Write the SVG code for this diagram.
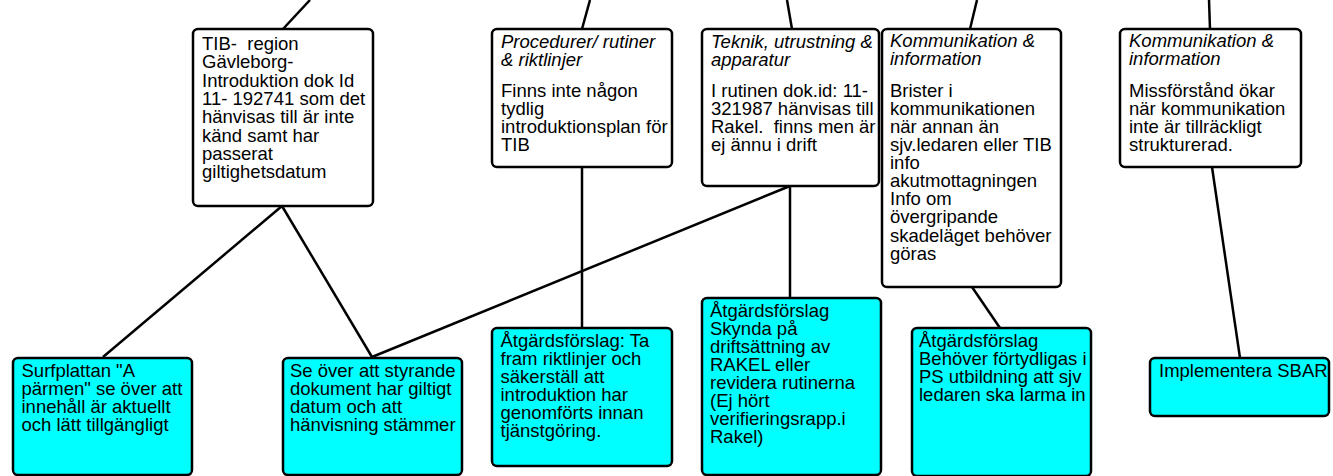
<svg xmlns="http://www.w3.org/2000/svg" width="1333" height="476" viewBox="0 0 1333 476">
<style>
.box{fill:#fff;stroke:#000;stroke-width:2.5}
.act{fill:#00ffff;stroke:#000;stroke-width:2.5}
.c line{stroke:#000;stroke-width:2.5}
text{font-family:"Liberation Sans",Arial,sans-serif;font-size:18.5px;fill:#000;white-space:pre}
.h{font-style:italic}
</style>
<rect width="1333" height="476" fill="#fff"/>
<g class="c" id="connectors">
<line x1="310" y1="0" x2="283" y2="29"/>
<line x1="282" y1="206" x2="103" y2="357"/>
<line x1="282" y1="206" x2="372" y2="357"/>
<line x1="372" y1="357" x2="790" y2="186"/>
<line x1="590" y1="0" x2="582" y2="29"/>
<line x1="582" y1="167" x2="582" y2="328"/>
<line x1="787" y1="0" x2="792" y2="29"/>
<line x1="790" y1="186" x2="790" y2="298"/>
<line x1="977" y1="0" x2="970" y2="29"/>
<line x1="972" y1="287" x2="1000" y2="328"/>
<line x1="1209" y1="0" x2="1210" y2="29"/>
<line x1="1212" y1="167" x2="1240" y2="358"/>
</g>
<g id="n-tib">
<rect class="box" x="193" y="29" width="180" height="177" rx="5"/>
<text xml:space="preserve"><tspan x="202" y="50">TIB-  region</tspan><tspan x="202" dy="18.3">Gävleborg-</tspan><tspan x="202" dy="18.3">Introduktion dok Id</tspan><tspan x="202" dy="18.3">11- 192741 som det</tspan><tspan x="202" dy="18.3">hänvisas till är inte</tspan><tspan x="202" dy="18.3">känd samt har</tspan><tspan x="202" dy="18.3">passerat</tspan><tspan x="202" dy="18.3">giltighetsdatum</tspan></text>
</g>
<g id="n-proc">
<rect class="box" x="492" y="29" width="180" height="138" rx="5"/>
<text class="h"><tspan x="501" y="48">Procedurer/ rutiner</tspan><tspan x="501" dy="18">&amp; riktlinjer</tspan></text>
<text><tspan x="501" y="96.5">Finns inte någon</tspan><tspan x="501" dy="18">tydlig</tspan><tspan x="501" dy="18">introduktionsplan för</tspan><tspan x="501" dy="18">TIB</tspan></text>
</g>
<g id="n-tek">
<rect class="box" x="702" y="29" width="177" height="157" rx="5"/>
<text class="h"><tspan x="711" y="48">Teknik, utrustning &amp;</tspan><tspan x="711" dy="18">apparatur</tspan></text>
<text xml:space="preserve"><tspan x="711" y="96.5">I rutinen dok.id: 11-</tspan><tspan x="711" dy="18">321987 hänvisas till</tspan><tspan x="711" dy="18">Rakel.  finns men är</tspan><tspan x="711" dy="18">ej ännu i drift</tspan></text>
</g>
<g id="n-kom1">
<rect class="box" x="882" y="29" width="179" height="258" rx="5"/>
<text class="h"><tspan x="890" y="47">Kommunikation &amp;</tspan><tspan x="890" dy="18">information</tspan></text>
<text><tspan x="890" y="96.7">Brister i</tspan><tspan x="890" dy="18.1">kommunikationen</tspan><tspan x="890" dy="18.1">när annan än</tspan><tspan x="890" dy="18.1">sjv.ledaren eller TIB</tspan><tspan x="890" dy="18.1">info</tspan><tspan x="890" dy="18.1">akutmottagningen</tspan><tspan x="890" dy="18.1">Info om</tspan><tspan x="890" dy="18.1">övergripande</tspan><tspan x="890" dy="18.1">skadeläget behöver</tspan><tspan x="890" dy="18.1">göras</tspan></text>
</g>
<g id="n-kom2">
<rect class="box" x="1120" y="29" width="181" height="138" rx="5"/>
<text class="h"><tspan x="1129" y="47">Kommunikation &amp;</tspan><tspan x="1129" dy="18">information</tspan></text>
<text><tspan x="1129" y="96.7">Missförstånd ökar</tspan><tspan x="1129" dy="18.1">när kommunikation</tspan><tspan x="1129" dy="18.1">inte är tillräckligt</tspan><tspan x="1129" dy="18.1">strukturerad.</tspan></text>
</g>
<g id="n-surf">
<rect class="act" x="13" y="358" width="179" height="117" rx="5"/>
<text><tspan x="21.5" y="377">Surfplattan "A</tspan><tspan x="21.5" dy="18">pärmen" se över att</tspan><tspan x="21.5" dy="18">innehåll är aktuellt</tspan><tspan x="21.5" dy="18">och lätt tillgängligt</tspan></text>
</g>
<g id="n-seover">
<rect class="act" x="283" y="358" width="179" height="117" rx="5"/>
<text><tspan x="290" y="377">Se över att styrande</tspan><tspan x="290" dy="18">dokument har giltigt</tspan><tspan x="290" dy="18">datum och att</tspan><tspan x="290" dy="18">hänvisning stämmer</tspan></text>
</g>
<g id="n-atg1">
<rect class="act" x="492" y="328" width="180" height="138" rx="5"/>
<text><tspan x="500.5" y="346.7">Åtgärdsförslag: Ta</tspan><tspan x="500.5" dy="18.1">fram riktlinjer och</tspan><tspan x="500.5" dy="18.1">säkerställ att</tspan><tspan x="500.5" dy="18.1">introduktion har</tspan><tspan x="500.5" dy="18.1">genomförts innan</tspan><tspan x="500.5" dy="18.1">tjänstgöring.</tspan></text>
</g>
<g id="n-atg2">
<rect class="act" x="702" y="298" width="179" height="177" rx="5"/>
<text><tspan x="710" y="316.7">Åtgärdsförslag</tspan><tspan x="710" dy="18.1">Skynda på</tspan><tspan x="710" dy="18.1">driftsättning av</tspan><tspan x="710" dy="18.1">RAKEL eller</tspan><tspan x="710" dy="18.1">revidera rutinerna</tspan><tspan x="710" dy="18.1">(Ej hört</tspan><tspan x="710" dy="18.1">verifieringsrapp.i</tspan><tspan x="710" dy="18.1">Rakel)</tspan></text>
</g>
<g id="n-atg3">
<rect class="act" x="912" y="328" width="179" height="148" rx="5"/>
<text><tspan x="919" y="346.7">Åtgärdsförslag</tspan><tspan x="919" dy="18.1">Behöver förtydligas i</tspan><tspan x="919" dy="18.1">PS utbildning att sjv</tspan><tspan x="919" dy="18.1">ledaren ska larma in</tspan></text>
</g>
<g id="n-sbar">
<rect class="act" x="1150" y="358" width="179" height="58" rx="5"/>
<text x="1159" y="376.7">Implementera SBAR</text>
</g>
</svg>
